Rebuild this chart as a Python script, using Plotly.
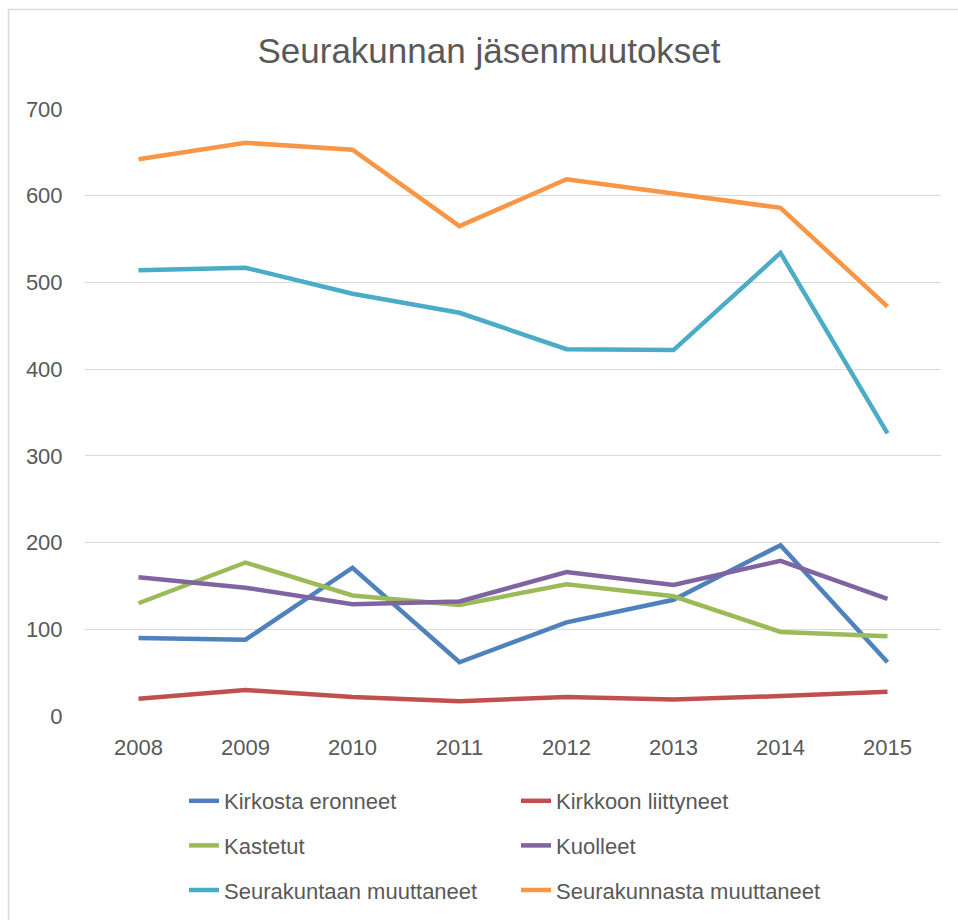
import plotly.graph_objects as go

years = ["2008", "2009", "2010", "2011", "2012", "2013", "2014", "2015"]
kirkosta_eronneet = [90, 88, 171, 62, 108, 134, 197, 62]
kirkkoon_liittyneet = [20, 30, 22, 17, 22, 19, 23, 28]
kastetut = [130, 177, 139, 128, 152, 138, 97, 92]
kuolleet = [160, 148, 129, 132, 166, 151, 179, 135]
seurakuntaan_muuttaneet = [514, 517, 487, 465, 423, 422, 534, 326]
seurakunnasta_muuttaneet = [642, 661, 653, 565, 619, 603, 586, 472]

series_names = ["Kirkosta eronneet", "Kirkkoon liittyneet", "Kastetut",
                "Kuolleet", "Seurakuntaan muuttaneet", "Seurakunnasta muuttaneet"]
series_values = [kirkosta_eronneet, kirkkoon_liittyneet, kastetut,
                 kuolleet, seurakuntaan_muuttaneet, seurakunnasta_muuttaneet]
colors = ["#4F81BD", "#C0504D", "#9BBB59", "#8064A2", "#4BACC6", "#F79646"]
y_ticks = [0, 100, 200, 300, 400, 500, 600, 700]

W, H = 958, 920
L, R, T, B = 85, 17, 109, 204
pw, ph = W - L - R, H - T - B

def px_x(p):
    return (p - L) / pw

def px_y(p):
    return (H - B - p) / ph

FONT = "Liberation Sans, Arial, sans-serif"
TXT = "#595959"

fig = go.Figure()
for i, (name, vals, col) in enumerate(zip(series_names, series_values, colors)):
    fig.add_trace(go.Scatter(
        x=years, y=vals, name=name, mode="lines",
        line=dict(color=col, width=4.5),
        legend="legend" if i % 2 == 0 else "legend2",
        legendgroup=name,
    ))

legend_common = dict(
    orientation="v", font=dict(family=FONT, size=22, color=TXT),
    bgcolor="rgba(0,0,0,0)", tracegroupgap=13, itemwidth=30,
    xanchor="left", yanchor="top", traceorder="grouped",
)

fig.update_layout(
    width=W, height=H,
    margin=dict(l=L, r=R, t=T, b=B, pad=0, autoexpand=False),
    paper_bgcolor="white", plot_bgcolor="white",
    title=dict(text="Seurakunnan jäsenmuutokset", x=489 / W, xref="container",
               xanchor="center", y=1 - 51 / H, yref="container", yanchor="middle",
               font=dict(family=FONT, size=35, color=TXT)),
    xaxis=dict(type="category", categoryorder="array", categoryarray=years,
               range=[-0.5, 7.5], showgrid=False, zeroline=False, showline=False,
               ticks="outside", ticklen=12, tickcolor="rgba(0,0,0,0)",
               tickfont=dict(family=FONT, size=22, color=TXT)),
    yaxis=dict(range=[0, 700], tickvals=y_ticks, showgrid=True,
               gridcolor="#D9D9D9", gridwidth=1.3, zeroline=False, showline=False,
               ticks="outside", ticklen=17, tickcolor="rgba(0,0,0,0)",
               tickfont=dict(family=FONT, size=22, color=TXT)),
    legend=dict(x=px_x(184), y=px_y(780), **legend_common),
    legend2=dict(x=px_x(516), y=px_y(780), **legend_common),
    shapes=[dict(type="rect", xref="paper", yref="paper",
                 x0=px_x(8.5), x1=px_x(990), y0=px_y(950), y1=px_y(9.5),
                 line=dict(color="#D9D9D9", width=1.5), fillcolor="rgba(0,0,0,0)",
                 layer="below")],
)

fig.write_html("out.html", config={"displayModeBar": False},
               post_script="document.body.style.margin='0';document.body.style.overflow='hidden';")
